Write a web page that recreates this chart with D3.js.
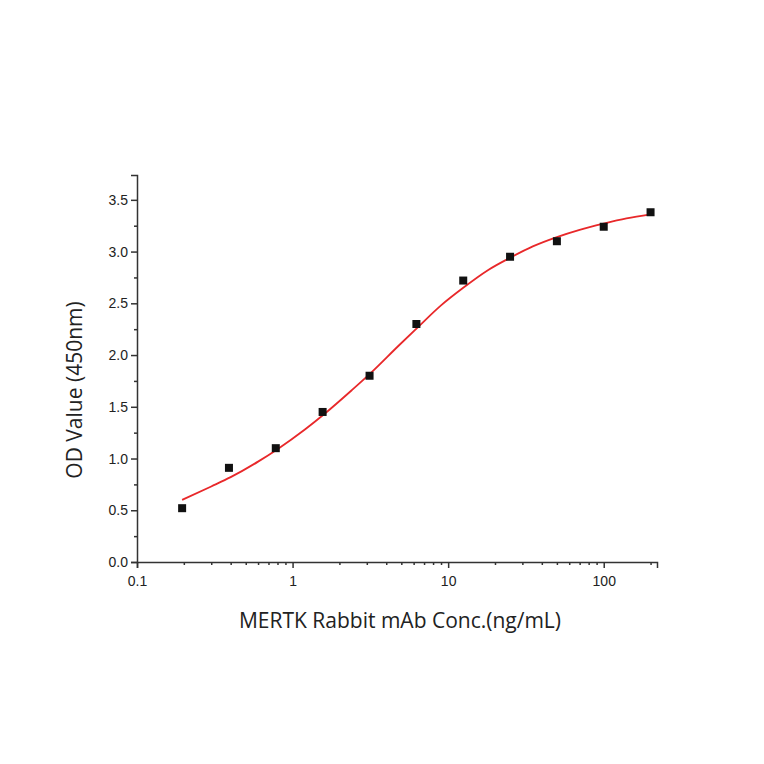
<!DOCTYPE html>
<html><head><meta charset="utf-8">
<script src="https://cdn.jsdelivr.net/npm/d3@7"></script>
<style>body{margin:0;background:#fff}</style>
</head><body><div id="chart"></div>
<script>
// measured points
var conc = [0.195,0.39,0.78,1.56,3.125,6.25,12.5,25,50,100,200];
var od = [0.52,0.91,1.10,1.45,1.80,2.30,2.72,2.95,3.10,3.24,3.38];
// fitted curve
var fitX = [0.195,0.3,0.4,0.6,0.8,1.2,1.6,2.4,3.2,4.8,6.4,9,12.5,18,25,35,50,70,100,140,200];
var fitY = [0.60,0.73,0.82,0.97,1.09,1.28,1.43,1.66,1.83,2.09,2.27,2.48,2.65,2.82,2.94,3.05,3.14,3.21,3.27,3.32,3.36];
var xTicks = [0.1,1,10,100];
var yTicks = [0,0.5,1,1.5,2,2.5,3,3.5];

var W = 764, H = 764;
var svg = d3.select("#chart").append("svg").attr("width", W).attr("height", H)
    .style("font-family", "'Open Sans', Arial, sans-serif")

var x = d3.scaleLog().domain([0.1, 220]).range([137, 657])
var y = d3.scaleLinear().domain([0, 3.74]).range([562, 175])

var minorX = []
for (var d = 0.1; d < 200; d *= 10)
    for (var k = 2; k <= 9; k++) if (d*k <= 220) minorX.push(d*k)
var minorY = d3.range(0.25, 3.75, 0.5)

var gx = svg.append("g").attr("transform", "translate(0,562)")
gx.call(d3.axisBottom(x).tickValues(xTicks).tickFormat(d3.format("")).tickSizeOuter(0).tickSize(6))
gx.append("g").call(d3.axisBottom(x).tickValues(minorX).tickFormat("").tickSize(3))
    .select(".domain").remove()
var gy = svg.append("g").attr("transform", "translate(137,0)")
gy.call(d3.axisLeft(y).tickValues(yTicks).tickFormat(d3.format(".1f")).tickSizeOuter(0).tickSize(6))
gy.append("g").call(d3.axisLeft(y).tickValues(minorY).tickFormat("").tickSize(3))
    .select(".domain").remove()
svg.selectAll(".domain, .tick line").attr("stroke", "#333").attr("stroke-width", 1.5)
svg.selectAll(".tick text").attr("font-size", "14px").attr("fill", "#222")
    .style("font-family", "Arial, 'Liberation Sans', sans-serif")
gx.selectAll(".tick text").attr("dy", "1.1em")

var line = d3.line().x(function(d, i){ return x(fitX[i]) }).y(function(d){ return y(d) })
    .curve(d3.curveMonotoneX)
svg.append("path").attr("d", line(fitY)).attr("fill", "none")
    .attr("stroke", "#e8282a").attr("stroke-width", 1.8)

svg.selectAll("rect.pt").data(od).enter().append("rect").attr("class", "pt")
    .attr("x", function(d, i){ return x(conc[i]) - 4 })
    .attr("y", function(d){ return y(d) - 4 })
    .attr("width", 8).attr("height", 8).attr("fill", "#111")

svg.append("text").text("MERTK Rabbit mAb Conc.(ng/mL)")
    .attr("x", 400).attr("y", 628).attr("text-anchor", "middle")
    .attr("font-size", "21px").attr("fill", "#222")
svg.append("text").text("OD Value (450nm)")
    .attr("transform", "translate(82,390) rotate(-90)").attr("text-anchor", "middle")
    .attr("font-size", "21px").attr("fill", "#222")
</script></body></html>
